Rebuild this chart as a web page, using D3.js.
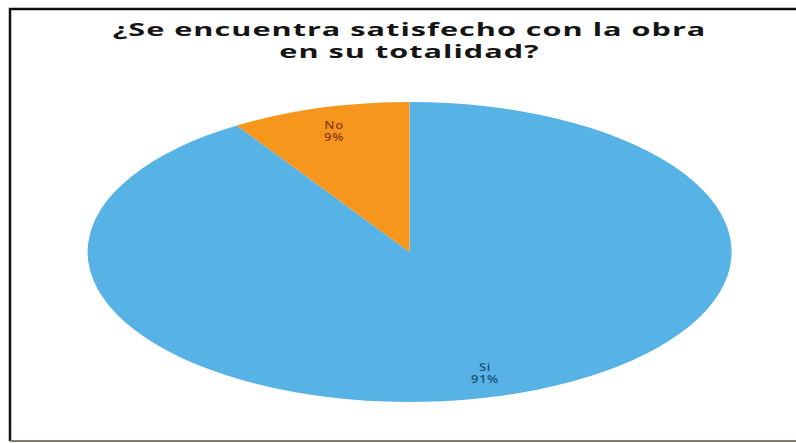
<!DOCTYPE html>
<html>
<head>
<meta charset="utf-8">
<script src="https://cdn.jsdelivr.net/npm/d3@7"></script>
<style>
  body { margin: 0; background: #fff; }
  svg { display: block; }
</style>
</head>
<body>
<svg id="plot" width="796" height="443"></svg>
<script>
const categories = ['Si', 'No'];
const values = [91, 9];
const titleLines = ['¿Se encuentra satisfecho con la obra', 'en su totalidad?'];

const plot = d3.select('#plot');
const W = 796, H = 443;

// frame (right side runs off the picture)
plot.append('path')
    .attr('d', `M${W},9 H10 V441`)
    .attr('fill', 'none')
    .attr('stroke', '#111')
    .attr('stroke-width', 2.5);
plot.append('line')
    .attr('x1', 10).attr('x2', W)
    .attr('y1', 441).attr('y2', 441)
    .attr('stroke', '#8a7a6a')
    .attr('stroke-width', 2);

const color = d3.scaleOrdinal()
    .domain(categories)
    .range(['#57b2e6', '#f7961d']);

const labelColor = d3.scaleOrdinal()
    .domain(categories)
    .range(['#1d5177', '#8a3b17']);

const cx = 409.5, cy = 252, rx = 322, ry = 150;

const pie = d3.pie().sort(null).value(d => d.value);
const slices = pie(categories.map((c, i) => ({ name: c, value: values[i] })));

// unit-radius arcs, then stretched into an ellipse
const arc = d3.arc().innerRadius(0).outerRadius(1);

plot.append('g')
    .attr('transform', `translate(${cx},${cy}) scale(${rx},${ry})`)
  .selectAll('path')
  .data(slices)
  .join('path')
    .attr('d', arc)
    .attr('fill', d => color(d.data.name));

const total = d3.sum(values);
const labels = plot.append('g')
  .selectAll('text')
  .data(slices)
  .join('text')
    .attr('text-anchor', 'middle')
    .style('font-family', '"Open Sans", sans-serif')
    .style('font-size', '10px')
    .style('font-weight', '600')
    .style('letter-spacing', '0.5px')
    .attr('fill', d => labelColor(d.data.name))
    .attr('transform', d => {
      const a = (d.startAngle + d.endAngle) / 2;
      const r = 0.84;
      return `translate(${cx + Math.sin(a) * rx * r},${cy - Math.cos(a) * ry * r}) scale(1.3,1)`;
    });

labels.append('tspan')
    .attr('x', 0).attr('y', -2)
    .text(d => d.data.name);
labels.append('tspan')
    .attr('x', 0).attr('y', 10)
    .text(d => Math.round(d.data.value / total * 100) + '%');

// title, stretched horizontally like the source picture
const title = plot.append('g')
  .selectAll('text')
  .data(titleLines)
  .join('text')
    .attr('text-anchor', 'middle')
    .style('font-family', '"Open Sans", sans-serif')
    .style('font-weight', 'bold')
    .style('font-size', '18px')
    .style('letter-spacing', '0.6px')
    .attr('fill', '#151515')
    .text(d => d);

const sx = 594 / title.nodes()[0].getComputedTextLength();
title.attr('transform', (d, i) => `translate(${cx},${36 + i * 22}) scale(${sx},1)`);
</script>
</body>
</html>
